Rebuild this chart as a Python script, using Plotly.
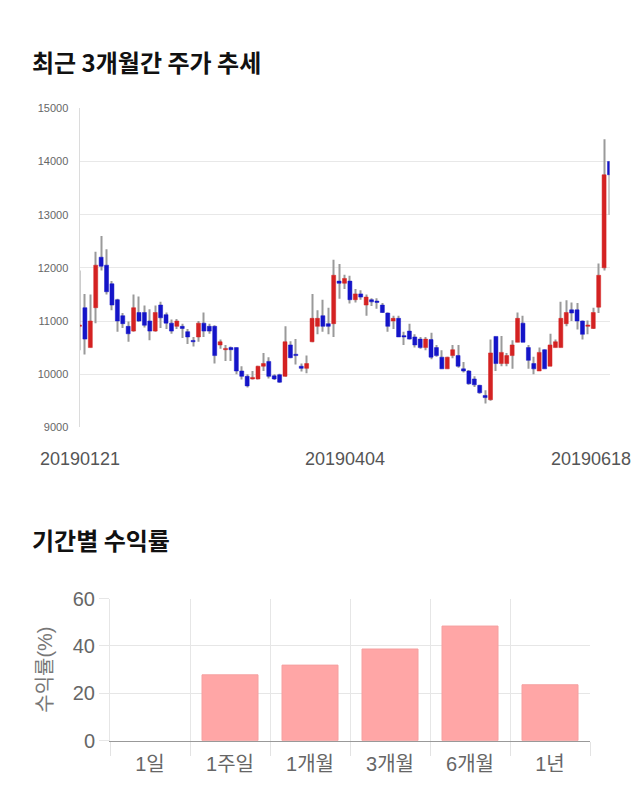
import plotly.graph_objects as go

# ---------------- data ----------------
OPEN = [10900, 11250, 10500, 11250, 12200, 12050, 11700, 11400, 11100, 10900,
        10810, 11160, 11160, 11000, 10810, 11300, 11120, 10960, 10900, 10900,
        10800, 10620, 10700, 10960, 10900, 10900, 10550, 10460, 10500, 10500,
        10060, 9960, 9910, 9910, 10150, 10240, 9970, 9990, 9960, 10550,
        10360, 10150, 10110, 10610, 10900, 11100, 10950, 10950, 11750, 11710,
        11750, 11400, 11510, 11300, 11400, 11360, 11300, 11150, 11000, 11050,
        10710, 10810, 10700, 10660, 10500, 10650, 10500, 10320, 10100, 10350,
        10350, 10100, 10060, 9910, 9790, 9600, 9520, 10710, 10200, 10200,
        10350, 10600, 10960, 10500, 10200, 10060, 10460, 10150, 10500, 10500,
        10950, 11210, 11210, 11000, 10900, 10860, 11260, 12000, 14000]
HIGH = [11950, 11510, 11500, 12300, 12600, 12350, 11750, 11420, 11150, 10990,
        11500, 11460, 11290, 11220, 11290, 11360, 11160, 11030, 11040, 10950,
        10850, 10700, 11000, 11160, 10950, 10920, 10650, 10550, 10520, 10500,
        10150, 10000, 10060, 10160, 10400, 10320, 10000, 10010, 10900, 10620,
        10660, 10200, 10350, 11510, 11200, 11400, 11250, 12150, 12070, 11870,
        11850, 11600, 11580, 11500, 11430, 11430, 11340, 11160, 11100, 11100,
        10800, 10950, 10750, 10700, 10700, 10780, 10550, 10450, 10330, 10550,
        10550, 10230, 10080, 9960, 9800, 9700, 10650, 10710, 10720, 10400,
        10640, 11160, 11100, 10550, 10330, 10500, 10470, 10760, 10650, 11360,
        11390, 11350, 11340, 11010, 11010, 11250, 12080, 14420, 14000]
LOW = [10450, 10370, 10500, 10960, 11950, 11500, 11200, 10800, 10870, 10610,
       10800, 10980, 10880, 10640, 10800, 10870, 10850, 10760, 10850, 10680,
       10570, 10520, 10610, 10700, 10760, 10200, 10480, 10250, 10250, 10000,
       9900, 9750, 9900, 9900, 10060, 9920, 9890, 9840, 9950, 10300,
       10180, 10050, 10020, 10600, 10750, 10800, 10750, 10700, 11420, 11600,
       11330, 11350, 11400, 11100, 11280, 11230, 11150, 10800, 10850, 10700,
       10550, 10650, 10500, 10480, 10450, 10280, 10330, 10100, 10100, 10300,
       10120, 10030, 9800, 9760, 9630, 9450, 9500, 10060, 10150, 10150,
       10100, 10600, 10600, 10100, 10000, 10060, 10100, 10150, 10500, 10500,
       10900, 11000, 10840, 10650, 10750, 10850, 11150, 11950, 13000]
CLOSE = [10910, 10660, 11000, 12050, 12030, 11550, 11300, 11000, 10950, 10760,
         11250, 11000, 10920, 10810, 11160, 11060, 10960, 10810, 11000, 10860,
         10700, 10610, 10960, 10810, 10810, 10350, 10610, 10460, 10460, 10060,
         9960, 9780, 9940, 10150, 10200, 9960, 9910, 9850, 10610, 10310,
         10350, 10110, 10200, 11050, 11050, 10900, 10900, 11860, 11710, 11800,
         11400, 11510, 11450, 11450, 11360, 11350, 11160, 10900, 11050, 10700,
         10700, 10660, 10550, 10500, 10660, 10320, 10350, 10100, 10320, 10460,
         10150, 10060, 9820, 9800, 9650, 9560, 10400, 10200, 10410, 10350,
         10550, 11050, 10600, 10260, 10100, 10410, 10100, 10550, 10610, 11050,
         11160, 11150, 11000, 10750, 10910, 11160, 11860, 13750, 13750]
DATE_TICK_IDX = [0, 49, 98]
DATE_TICK_LABELS = ["20190121", "20190404", "20190618"]
PRICE_TICKS = [9000, 10000, 11000, 12000, 13000, 14000, 15000]

PERIODS = ["1일", "1주일", "1개월", "3개월", "6개월", "1년"]
RETURNS = [0.0, 27.8, 31.9, 38.7, 48.4, 23.6]
RETURN_TICKS = [0, 20, 40, 60]

TITLE_TOP = "최근 3개월간 주가 추세"
TITLE_BOTTOM = "기간별 수익률"
Y2_TITLE = "수익률(%)"

# ---------------- derived ----------------
idx = list(range(len(OPEN)))
RED, BLUE = "#d42222", "#1414c8"
body_lo = [min(o, c) for o, c in zip(OPEN, CLOSE)]
body_h = [max(abs(c - o), 25) for o, c in zip(OPEN, CLOSE)]
body_col = [RED if c >= o else BLUE for o, c in zip(OPEN, CLOSE)]
wick_h = [h - l for h, l in zip(HIGH, LOW)]
ret_line_w = [1 if r > 0 else 0 for r in RETURNS]

W, H = 640, 810
FONT = "Liberation Sans, Arial, Noto Sans CJK KR, sans-serif"
KFONT = "Noto Sans CJK KR, sans-serif"

fig = go.Figure()
fig.add_trace(go.Bar(x=idx, y=wick_h, base=LOW, width=0.185,
                     marker=dict(color="#9a9a9a", line=dict(width=0)),
                     xaxis="x", yaxis="y", hoverinfo="skip"))
fig.add_trace(go.Bar(x=idx, y=body_h, base=body_lo, width=0.74,
                     marker=dict(color=body_col, line=dict(width=0.5, color=body_col)),
                     xaxis="x", yaxis="y"))
fig.add_trace(go.Bar(x=PERIODS, y=RETURNS, width=0.7,
                     marker=dict(color="#ffa6a6", line=dict(width=ret_line_w, color="#f5a0a0")),
                     xaxis="x2", yaxis="y2"))

annotations = [
    dict(text=TITLE_TOP, x=30 / W, y=1 - 52 / H, xref="paper", yref="paper",
         xanchor="left", yanchor="middle", showarrow=False,
         font=dict(family=KFONT, size=24, color="#111", weight=700)),
    dict(text=TITLE_BOTTOM, x=30 / W, y=1 - 543 / H, xref="paper", yref="paper",
         xanchor="left", yanchor="middle", showarrow=False,
         font=dict(family=KFONT, size=24, color="#111", weight=700)),
]
for i, (xi, lab) in enumerate(zip(DATE_TICK_IDX, DATE_TICK_LABELS)):
    last = i == len(DATE_TICK_IDX) - 1
    annotations.append(dict(text=lab, x=xi, xref="x", y=1 - 460 / H, yref="paper",
                            xanchor="center", yanchor="middle", showarrow=False,
                            xshift=-19 if last else 0,
                            font=dict(family=FONT, size=18, color="#555")))

fig.update_layout(
    width=W, height=H, margin=dict(l=0, r=0, t=0, b=0),
    paper_bgcolor="white", plot_bgcolor="white",
    showlegend=False, barmode="overlay",
    font=dict(family=FONT, color="#666"),
    xaxis=dict(domain=[79.5 / W, 609.5 / W], anchor="y", range=[0, 98],
               showgrid=False, zeroline=False, showticklabels=False, showline=False),
    yaxis=dict(domain=[1 - 428 / H, 1 - 100 / H], anchor="x", range=[9000, 15000],
               tickvals=PRICE_TICKS, tickformat="d", gridcolor="#e8e8e8", zeroline=False,
               showline=True, linecolor="#dcdcdc", ticklabelstandoff=8,
               tickfont=dict(size=11, color="#666")),
    xaxis2=dict(domain=[110 / W, 590 / W], anchor="y2", type="category",
                range=[-0.5, 5.5], tickson="boundaries", ticks="outside",
                ticklen=14, tickcolor="#e3e3e3", showgrid=True, gridcolor="#e6e6e6",
                showline=True, linecolor="#999", zeroline=False,
                ticklabelstandoff=5,
                tickfont=dict(size=20, color="#666")),
    yaxis2=dict(domain=[1 - 750 / H, 1 - 604 / H], anchor="x2", range=[0, 60],
                tickvals=RETURN_TICKS, gridcolor="#e6e6e6", zeroline=False,
                ticks="outside", ticklen=10, tickcolor="#e6e6e6",
                showline=True, linecolor="#e6e6e6",
                tickfont=dict(size=20, color="#666"),
                title=dict(text=Y2_TITLE, standoff=14,
                           font=dict(family=FONT, size=20, color="#777"))),
    annotations=annotations,
)

fig.write_html("out.html")
